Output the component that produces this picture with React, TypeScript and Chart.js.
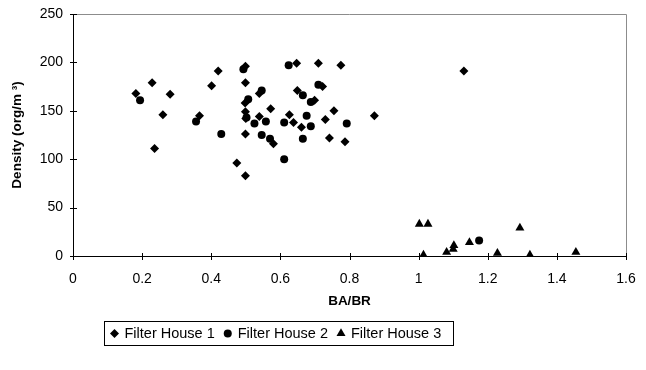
import React, { useEffect, useRef } from 'react';
import { Chart, registerables } from 'chart.js';

Chart.register(...registerables);

const fh1X = [0.182, 0.229, 0.281, 0.26, 0.236, 0.401, 0.42, 0.366, 0.499, 0.499, 0.498, 0.499, 0.5, 0.499, 0.499, 0.474, 0.539, 0.539, 0.572, 0.58, 0.626, 0.638, 0.647, 0.649, 0.661, 0.699, 0.71, 0.722, 0.73, 0.742, 0.755, 0.775, 0.787, 0.872, 1.131];
const fh1Y = [168, 179, 167, 146, 111, 176, 191, 145, 196, 179, 158, 149, 142, 126, 83, 96, 168, 144, 152, 116, 146, 138, 199, 171, 133, 161, 199, 175, 141, 122, 150, 197, 118, 145, 191];

const fh2X = [0.194, 0.356, 0.429, 0.493, 0.502, 0.507, 0.525, 0.546, 0.546, 0.558, 0.57, 0.611, 0.611, 0.624, 0.665, 0.665, 0.676, 0.688, 0.688, 0.71, 0.792, 1.175];
const fh2Y = [161, 139, 126, 193, 143, 162, 137, 171, 125, 139, 121, 138, 100, 197, 166, 121, 145, 159, 134, 177, 137, 16];

const fh3X = [1.002, 1.027, 1.014, 1.081, 1.1, 1.102, 1.147, 1.228, 1.293, 1.322, 1.455];
const fh3Y = [33, 33, 1, 4, 7, 11, 14, 3, 29, 1, 4];

const seriesNames = ['Filter House 1', 'Filter House 2', 'Filter House 3'];
const xTicks = [0, 0.2, 0.4, 0.6, 0.8, 1, 1.2, 1.4, 1.6];
const yTicks = [0, 50, 100, 150, 200, 250];
const xTitle = 'BA/BR';
const yTitle = 'Density (org/m \u00b3)';

const FONT = '"Liberation Sans", Arial, sans-serif';

function toPoints(xs: number[], ys: number[]) {
  return xs.map((x, i) => ({ x, y: ys[i] }));
}

function drawMarker(ctx: CanvasRenderingContext2D, kind: number, cx: number, cy: number) {
  ctx.beginPath();
  if (kind === 0) {
    const r = 4.5;
    ctx.moveTo(cx, cy - r);
    ctx.lineTo(cx + r, cy);
    ctx.lineTo(cx, cy + r);
    ctx.lineTo(cx - r, cy);
    ctx.closePath();
  } else if (kind === 1) {
    ctx.arc(cx, cy, 4, 0, Math.PI * 2);
  } else {
    const r = 5.2;
    for (let i = 0; i < 3; i++) {
      const a = -Math.PI / 2 + (i * 2 * Math.PI) / 3;
      const px = cx + Math.cos(a) * r;
      const py = cy + Math.sin(a) * r;
      if (i === 0) ctx.moveTo(px, py);
      else ctx.lineTo(px, py);
    }
    ctx.closePath();
  }
  ctx.fill();
}

const framePlugin = {
  id: 'frame',
  beforeDatasetsDraw(chart: any) {
    const { ctx, chartArea } = chart;
    const { left, right, top, bottom } = chartArea;
    const x = chart.scales.x;
    const y = chart.scales.y;
    ctx.save();
    ctx.lineWidth = 1;
    ctx.strokeStyle = '#8c8c8c';
    ctx.beginPath();
    ctx.moveTo(Math.round(left), Math.round(top) + 0.5);
    ctx.lineTo(Math.round(right) + 0.5, Math.round(top) + 0.5);
    ctx.lineTo(Math.round(right) + 0.5, Math.round(bottom));
    ctx.stroke();
    ctx.strokeStyle = '#000';
    ctx.beginPath();
    ctx.moveTo(Math.round(left) + 0.5, Math.round(top));
    ctx.lineTo(Math.round(left) + 0.5, Math.round(bottom) + 0.5);
    ctx.lineTo(Math.round(right) + 1, Math.round(bottom) + 0.5);
    for (const v of yTicks) {
      const py = Math.round(y.getPixelForValue(v)) + 0.5;
      ctx.moveTo(Math.round(left) - 3, py);
      ctx.lineTo(Math.round(left) + 4, py);
    }
    for (const v of xTicks) {
      const px = Math.round(x.getPixelForValue(v)) + 0.5;
      ctx.moveTo(px, Math.round(bottom) - 3);
      ctx.lineTo(px, Math.round(bottom) + 4);
    }
    ctx.stroke();
    ctx.restore();
  },
  afterDraw(chart: any) {
    const { ctx } = chart;
    ctx.save();
    ctx.font = `14.5px ${FONT}`;
    ctx.fillStyle = '#000';
    ctx.textBaseline = 'middle';
    ctx.textAlign = 'left';
    const boxLeft = 104.5;
    const boxTop = 321.5;
    const boxH = 24;
    const cy = boxTop + boxH / 2;
    let cx = boxLeft + 10;
    for (let i = 0; i < seriesNames.length; i++) {
      drawMarker(ctx, i, cx, cy);
      const tx = cx + 10;
      ctx.fillText(seriesNames[i], tx, cy + 0.5);
      const w = ctx.measureText(seriesNames[i]).width;
      cx = tx + w + 13;
    }
    const boxRight = cx - 13 + 12;
    ctx.strokeStyle = '#000';
    ctx.lineWidth = 1;
    ctx.strokeRect(boxLeft, boxTop, Math.round(boxRight - boxLeft), boxH);
    ctx.restore();
  },
};

export default function App() {
  const ref = useRef<HTMLCanvasElement | null>(null);
  useEffect(() => {
    if (!ref.current) return;
    const chart = new Chart(ref.current, {
      type: 'scatter',
      data: {
        datasets: [
          {
            label: seriesNames[0],
            data: toPoints(fh1X, fh1Y),
            pointStyle: 'rectRot',
            pointRadius: 4.5,
            backgroundColor: '#000',
            borderColor: '#000',
            borderWidth: 0,
          },
          {
            label: seriesNames[1],
            data: toPoints(fh2X, fh2Y),
            pointStyle: 'circle',
            pointRadius: 4,
            backgroundColor: '#000',
            borderColor: '#000',
            borderWidth: 0,
          },
          {
            label: seriesNames[2],
            data: toPoints(fh3X, fh3Y),
            pointStyle: 'triangle',
            pointRadius: 5.2,
            backgroundColor: '#000',
            borderColor: '#000',
            borderWidth: 0,
          },
        ],
      },
      options: {
        responsive: false,
        animation: false,
        devicePixelRatio: 1,
        layout: { padding: { left: 0, top: 14, right: 20, bottom: 0 } },
        plugins: {
          legend: { display: false },
          tooltip: { enabled: false },
        },
        scales: {
          x: {
            type: 'linear',
            min: 0,
            max: 1.6,
            grid: { display: false, drawTicks: false },
            border: { display: false },
            afterBuildTicks: (s: any) => {
              s.ticks = xTicks.map((v) => ({ value: v }));
            },
            afterFit: (s: any) => {
              s.height = 114;
              s.paddingLeft = 0;
              s.paddingRight = 0;
            },
            ticks: {
              autoSkip: false,
              maxRotation: 0,
              padding: 15,
              color: '#000',
              font: { family: FONT, size: 14 },
              callback: (v: any) => String(v),
            },
            title: {
              display: true,
              text: xTitle,
              color: '#000',
              font: { family: FONT, size: 13.5, weight: 'bold' },
              padding: { top: 0, bottom: 61 },
            },
          },
          y: {
            type: 'linear',
            min: 0,
            max: 250,
            grid: { display: false, drawTicks: false },
            border: { display: false },
            afterBuildTicks: (s: any) => {
              s.ticks = yTicks.map((v) => ({ value: v }));
            },
            afterFit: (s: any) => {
              s.width = 73;
              s.paddingTop = 0;
              s.paddingBottom = 0;
            },
            ticks: {
              autoSkip: false,
              padding: 10,
              color: '#000',
              font: { family: FONT, size: 14 },
              callback: (v: any) => String(v),
            },
            title: {
              display: true,
              text: yTitle,
              color: '#000',
              font: { family: FONT, size: 13.5, weight: 'bold' },
              padding: { top: 9, bottom: 0 },
            },
          },
        },
      },
      plugins: [framePlugin],
    } as any);
    return () => chart.destroy();
  }, []);
  return (
    <div style={{ position: 'absolute', left: 0, top: 0, width: 646, height: 370, background: '#fff' }}>
      <canvas ref={ref} width={646} height={370} style={{ display: 'block' }} />
    </div>
  );
}
